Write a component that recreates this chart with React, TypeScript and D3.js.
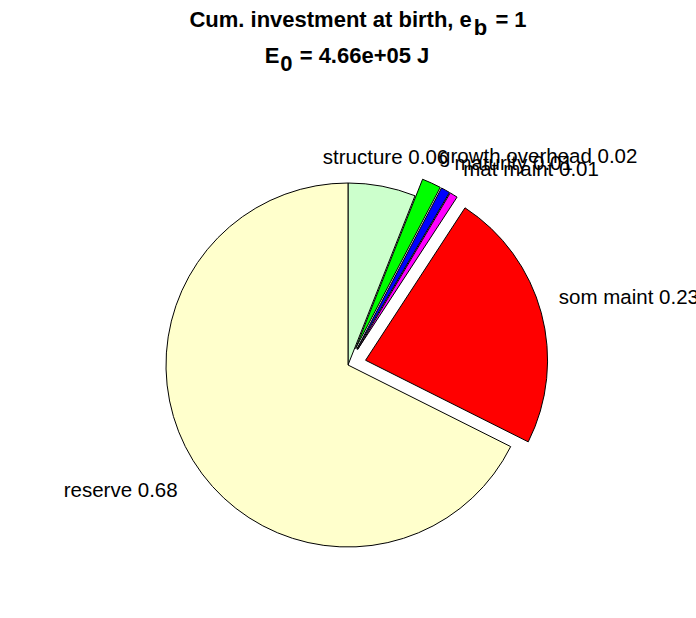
import React from "react";
import * as d3 from "d3";

// slice order as drawn, clockwise from 12 o'clock
const names = ["structure", "growth overhead", "maturity", "mat maint", "som maint", "reserve"];
const fractions = [0.06, 0.017, 0.008, 0.007, 0.232, 0.676];
const exploded = [false, true, true, true, true, false];
const colors = ["#ccffcc", "#00ff00", "#0000ff", "#ff00ff", "#ff0000", "#ffffcc"];

const titleLine1 = "Cum. investment at birth, e";
const titleSub1 = "b";
const titleTail1 = " = 1";
const titleLine2 = "E";
const titleSub2 = "0";
const titleTail2 = " = 4.66e+05 J";

interface Slice {
  name: string;
  value: number;
  exploded: boolean;
  color: string;
}

const slices: Slice[] = names.map((n, i) => ({
  name: n,
  value: fractions[i],
  exploded: exploded[i],
  color: colors[i],
}));

const W = 696;
const H = 618;
const cx = 348;
const cy = 365;
const R = 182;
const font = "'Liberation Sans', Arial, Helvetica, sans-serif";
const labelSize = 20.5;
const titleSize = 22;

const App: React.FC = () => {
  const total = d3.sum(fractions);
  const fmt = d3.format(".2f");

  const pie = d3
    .pie<Slice>()
    .sort(null)
    .value(d => d.value);

  const arc = d3
    .arc<d3.PieArcDatum<Slice>>()
    .innerRadius(0)
    .outerRadius(R);

  const arcs = pie(slices);

  return (
    <svg
      width={W}
      height={H}
      style={{ position: "absolute", left: 0, top: 0, background: "#fff" }}
      fontFamily={font}
    >
      <text x={cx + 10} y={27} textAnchor="middle" fontWeight="bold" fontSize={titleSize}>
        {titleLine1}
        <tspan dx={2} dy={8}>{titleSub1}</tspan>
        <tspan dx={2} dy={-8}>{titleTail1}</tspan>
      </text>
      <text x={cx - 1} y={63} textAnchor="middle" fontWeight="bold" fontSize={titleSize}>
        {titleLine2}
        <tspan dx={1} dy={8}>{titleSub2}</tspan>
        <tspan dx={1} dy={-8}>{titleTail2}</tspan>
      </text>

      <g transform={`translate(${cx},${cy})`}>
        {arcs.map((a, i) => {
          const mid = (a.startAngle + a.endAngle) / 2;
          const dx = Math.sin(mid);
          const dy = -Math.cos(mid);
          const off = a.data.exploded ? 0.1 * R : 0;
          return (
            <path
              key={"s" + i}
              d={arc(a) || ""}
              transform={`translate(${dx * off},${dy * off})`}
              fill={a.data.color}
              stroke="#000"
              strokeWidth={1}
            />
          );
        })}
        {arcs.map((a, i) => {
          const mid = (a.startAngle + a.endAngle) / 2;
          const dx = Math.sin(mid);
          const dy = -Math.cos(mid);
          const off = a.data.exploded ? 0.1 * R : 0;
          const tx = dx * (off + 1.1 * R);
          const ty = dy * (off + 1.1 * R);
          const anchor = Math.abs(dx) < 0.3 ? "middle" : dx > 0 ? "start" : "end";
          const y = dy < 0 ? ty - 4 : ty + labelSize * 0.9 + 8;
          return (
            <text
              key={"l" + i}
              x={tx}
              y={y}
              textAnchor={anchor}
              fontSize={labelSize}
              fill="#000"
            >
              {`${a.data.name} ${fmt(a.data.value / total)}`}
            </text>
          );
        })}
      </g>
    </svg>
  );
};

export default App;
